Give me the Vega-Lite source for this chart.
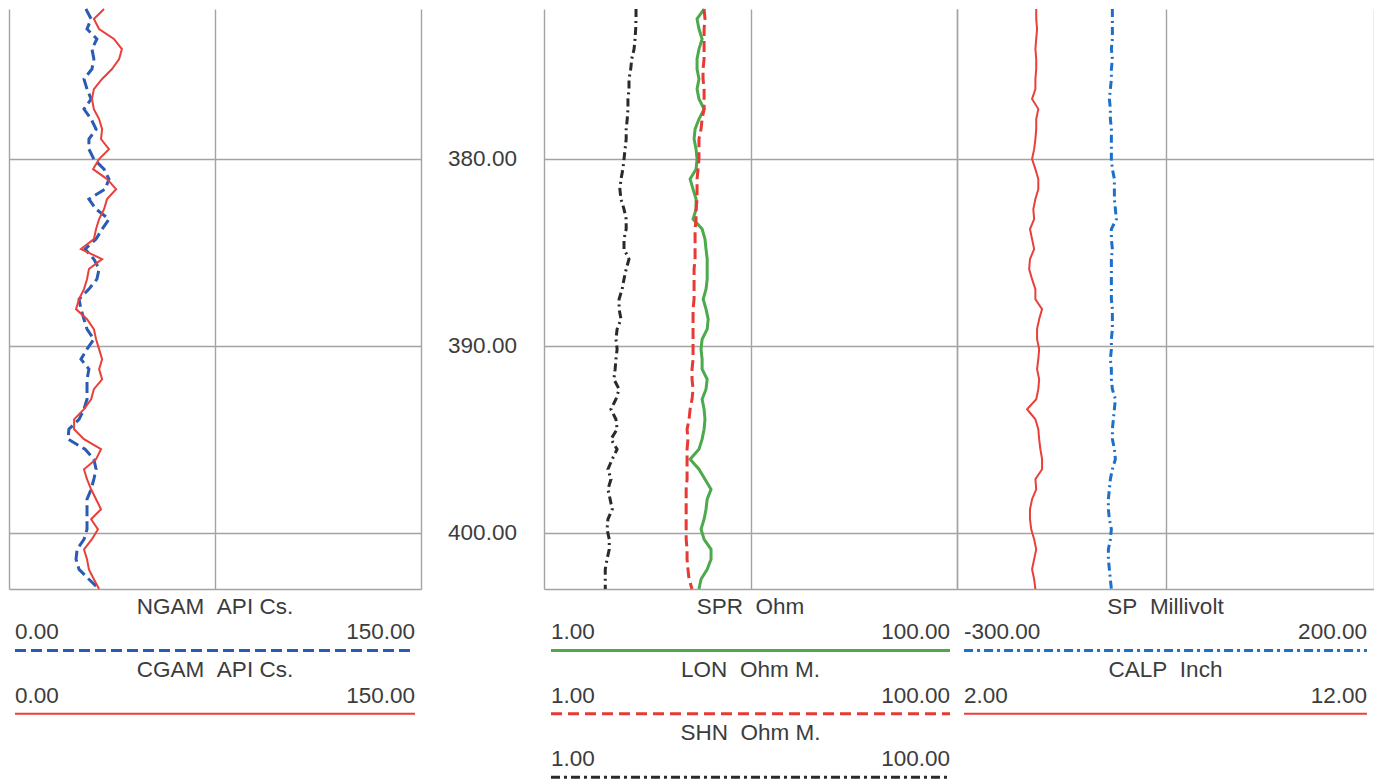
{
  "$schema": "https://vega.github.io/schema/vega-lite/v6.json",
  "padding": {"left": 9, "top": 3, "right": 0, "bottom": 0},
  "background": "white",
  "config": {
    "view": {"stroke": null},
    "axis": {"domain": false, "ticks": false, "labels": false, "grid": true, "gridColor": "#a3a3a3", "gridWidth": 1.4},
    "text": {"font": "Liberation Sans", "fontSize": 22.5, "fill": "#3c3c3c"}
  },
  "datasets": {
    "logs": [
      {"d":372.00,"NGAM":28.0,"CGAM":34.6,"SPR":5.96,"LON":5.96,"SHN":2.79,"SP":-113.7,"CALP":3.90},
      {"d":372.53,"NGAM":29.9,"CGAM":30.9,"SPR":5.51,"LON":6.02,"SHN":2.79,"SP":-113.7,"CALP":3.90},
      {"d":373.07,"NGAM":28.4,"CGAM":32.8,"SPR":5.63,"LON":5.96,"SHN":2.78,"SP":-113.7,"CALP":3.92},
      {"d":373.60,"NGAM":32.0,"CGAM":38.2,"SPR":5.83,"LON":5.96,"SHN":2.76,"SP":-113.7,"CALP":3.90},
      {"d":374.14,"NGAM":30.2,"CGAM":41.1,"SPR":5.63,"LON":5.96,"SHN":2.73,"SP":-114.9,"CALP":3.88},
      {"d":374.67,"NGAM":30.9,"CGAM":40.1,"SPR":5.51,"LON":5.96,"SHN":2.66,"SP":-113.7,"CALP":3.90},
      {"d":375.21,"NGAM":30.2,"CGAM":37.5,"SPR":5.51,"LON":5.89,"SHN":2.63,"SP":-114.9,"CALP":3.90},
      {"d":375.74,"NGAM":27.3,"CGAM":33.9,"SPR":5.63,"LON":5.89,"SHN":2.58,"SP":-114.9,"CALP":3.88},
      {"d":376.28,"NGAM":28.4,"CGAM":30.9,"SPR":5.51,"LON":5.96,"SHN":2.58,"SP":-116.1,"CALP":3.88},
      {"d":376.81,"NGAM":29.9,"CGAM":30.2,"SPR":5.63,"LON":5.96,"SHN":2.55,"SP":-117.3,"CALP":3.80},
      {"d":377.35,"NGAM":27.3,"CGAM":30.9,"SPR":5.96,"LON":5.96,"SHN":2.55,"SP":-116.1,"CALP":3.95},
      {"d":377.88,"NGAM":29.9,"CGAM":32.8,"SPR":5.63,"LON":5.83,"SHN":2.53,"SP":-116.1,"CALP":3.90},
      {"d":378.42,"NGAM":31.7,"CGAM":33.9,"SPR":5.39,"LON":5.76,"SHN":2.50,"SP":-114.9,"CALP":3.90},
      {"d":378.95,"NGAM":29.1,"CGAM":33.5,"SPR":5.33,"LON":5.63,"SHN":2.50,"SP":-114.9,"CALP":3.88},
      {"d":379.49,"NGAM":29.1,"CGAM":36.4,"SPR":5.45,"LON":5.63,"SHN":2.47,"SP":-114.9,"CALP":3.85},
      {"d":380.02,"NGAM":30.9,"CGAM":32.8,"SPR":5.51,"LON":5.63,"SHN":2.44,"SP":-114.9,"CALP":3.80},
      {"d":380.56,"NGAM":34.6,"CGAM":30.6,"SPR":5.45,"LON":5.57,"SHN":2.41,"SP":-113.7,"CALP":3.88},
      {"d":381.09,"NGAM":36.4,"CGAM":35.7,"SPR":5.10,"LON":5.51,"SHN":2.36,"SP":-111.3,"CALP":3.95},
      {"d":381.63,"NGAM":35.0,"CGAM":39.0,"SPR":5.27,"LON":5.51,"SHN":2.33,"SP":-111.3,"CALP":3.95},
      {"d":382.16,"NGAM":29.1,"CGAM":35.7,"SPR":5.45,"LON":5.51,"SHN":2.36,"SP":-111.3,"CALP":3.88},
      {"d":382.70,"NGAM":31.7,"CGAM":34.6,"SPR":5.45,"LON":5.45,"SHN":2.44,"SP":-110.1,"CALP":3.83},
      {"d":383.23,"NGAM":36.4,"CGAM":32.8,"SPR":5.27,"LON":5.45,"SHN":2.50,"SP":-108.9,"CALP":3.85},
      {"d":383.76,"NGAM":33.9,"CGAM":31.7,"SPR":5.83,"LON":5.39,"SHN":2.50,"SP":-114.9,"CALP":3.75},
      {"d":384.30,"NGAM":31.7,"CGAM":30.9,"SPR":6.02,"LON":5.39,"SHN":2.44,"SP":-114.9,"CALP":3.80},
      {"d":384.83,"NGAM":27.7,"CGAM":26.2,"SPR":6.09,"LON":5.39,"SHN":2.44,"SP":-113.7,"CALP":3.85},
      {"d":385.37,"NGAM":30.9,"CGAM":33.9,"SPR":6.17,"LON":5.39,"SHN":2.58,"SP":-114.9,"CALP":3.75},
      {"d":385.90,"NGAM":32.8,"CGAM":29.1,"SPR":6.17,"LON":5.33,"SHN":2.50,"SP":-114.9,"CALP":3.73},
      {"d":386.44,"NGAM":32.0,"CGAM":28.4,"SPR":6.17,"LON":5.33,"SHN":2.44,"SP":-114.9,"CALP":3.80},
      {"d":386.97,"NGAM":29.1,"CGAM":27.3,"SPR":6.09,"LON":5.33,"SHN":2.39,"SP":-114.9,"CALP":3.88},
      {"d":387.51,"NGAM":25.5,"CGAM":25.5,"SPR":5.90,"LON":5.33,"SHN":2.31,"SP":-114.9,"CALP":3.88},
      {"d":388.04,"NGAM":26.2,"CGAM":24.4,"SPR":6.09,"LON":5.27,"SHN":2.31,"SP":-113.7,"CALP":4.04},
      {"d":388.58,"NGAM":27.3,"CGAM":28.4,"SPR":6.24,"LON":5.27,"SHN":2.36,"SP":-113.7,"CALP":3.97},
      {"d":389.11,"NGAM":28.4,"CGAM":30.9,"SPR":6.17,"LON":5.27,"SHN":2.26,"SP":-113.7,"CALP":3.92},
      {"d":389.65,"NGAM":30.9,"CGAM":31.7,"SPR":5.83,"LON":5.27,"SHN":2.23,"SP":-114.9,"CALP":3.92},
      {"d":390.18,"NGAM":28.4,"CGAM":32.8,"SPR":5.76,"LON":5.27,"SHN":2.26,"SP":-114.9,"CALP":3.97},
      {"d":390.72,"NGAM":26.2,"CGAM":33.9,"SPR":5.83,"LON":5.27,"SHN":2.23,"SP":-116.1,"CALP":3.95},
      {"d":391.25,"NGAM":29.1,"CGAM":32.8,"SPR":5.83,"LON":5.21,"SHN":2.21,"SP":-114.9,"CALP":3.92},
      {"d":391.79,"NGAM":28.4,"CGAM":33.9,"SPR":6.17,"LON":5.21,"SHN":2.18,"SP":-114.9,"CALP":3.97},
      {"d":392.32,"NGAM":28.4,"CGAM":30.9,"SPR":6.09,"LON":5.27,"SHN":2.31,"SP":-113.7,"CALP":3.95},
      {"d":392.86,"NGAM":28.4,"CGAM":29.9,"SPR":5.83,"LON":5.21,"SHN":2.23,"SP":-110.1,"CALP":3.90},
      {"d":393.39,"NGAM":27.3,"CGAM":27.3,"SPR":5.96,"LON":5.10,"SHN":2.11,"SP":-111.3,"CALP":3.68},
      {"d":393.93,"NGAM":25.5,"CGAM":23.7,"SPR":6.02,"LON":5.04,"SHN":2.23,"SP":-112.5,"CALP":3.88},
      {"d":394.46,"NGAM":21.8,"CGAM":23.7,"SPR":5.96,"LON":4.93,"SHN":2.26,"SP":-113.7,"CALP":3.95},
      {"d":394.99,"NGAM":21.5,"CGAM":27.3,"SPR":5.83,"LON":4.98,"SHN":2.11,"SP":-113.7,"CALP":3.97},
      {"d":395.53,"NGAM":27.7,"CGAM":33.5,"SPR":5.63,"LON":4.93,"SHN":2.26,"SP":-111.3,"CALP":4.00},
      {"d":396.06,"NGAM":30.9,"CGAM":31.7,"SPR":5.10,"LON":4.93,"SHN":2.14,"SP":-110.1,"CALP":4.04},
      {"d":396.60,"NGAM":31.7,"CGAM":27.3,"SPR":5.63,"LON":4.93,"SHN":2.04,"SP":-113.7,"CALP":4.04},
      {"d":397.13,"NGAM":30.9,"CGAM":28.4,"SPR":6.02,"LON":4.93,"SHN":2.11,"SP":-116.1,"CALP":3.88},
      {"d":397.67,"NGAM":29.9,"CGAM":29.9,"SPR":6.44,"LON":4.88,"SHN":2.04,"SP":-117.3,"CALP":3.90},
      {"d":398.20,"NGAM":28.4,"CGAM":31.7,"SPR":6.17,"LON":4.88,"SHN":2.09,"SP":-118.5,"CALP":3.80},
      {"d":398.74,"NGAM":28.4,"CGAM":33.5,"SPR":6.09,"LON":4.88,"SHN":2.14,"SP":-118.5,"CALP":3.75},
      {"d":399.27,"NGAM":28.4,"CGAM":29.9,"SPR":5.96,"LON":4.88,"SHN":2.04,"SP":-117.3,"CALP":3.75},
      {"d":399.81,"NGAM":28.4,"CGAM":32.4,"SPR":5.76,"LON":4.88,"SHN":2.02,"SP":-114.9,"CALP":3.78},
      {"d":400.34,"NGAM":27.3,"CGAM":30.2,"SPR":5.96,"LON":4.88,"SHN":2.07,"SP":-116.1,"CALP":3.85},
      {"d":400.88,"NGAM":24.8,"CGAM":27.3,"SPR":6.44,"LON":4.93,"SHN":2.07,"SP":-118.5,"CALP":3.90},
      {"d":401.41,"NGAM":24.4,"CGAM":28.4,"SPR":6.44,"LON":4.93,"SHN":2.02,"SP":-118.5,"CALP":3.85},
      {"d":401.95,"NGAM":25.5,"CGAM":29.1,"SPR":6.17,"LON":4.98,"SHN":1.98,"SP":-117.3,"CALP":3.80},
      {"d":402.48,"NGAM":29.1,"CGAM":30.9,"SPR":5.76,"LON":5.04,"SHN":1.98,"SP":-116.1,"CALP":3.85},
      {"d":403.00,"NGAM":32.8,"CGAM":32.8,"SPR":5.63,"LON":5.21,"SHN":1.98,"SP":-114.9,"CALP":3.88}
    ],
    "depths": [{"depth": 380}, {"depth": 390}, {"depth": 400}],
    "leg1": [
      {"curve": "NGAM", "title": "NGAM\u00a0\u00a0API Cs.", "lo": "0.00", "hi": "150.00", "slot": 1},
      {"curve": "CGAM", "title": "CGAM\u00a0\u00a0API Cs.", "lo": "0.00", "hi": "150.00", "slot": 2}
    ],
    "leg2": [
      {"curve": "SPR", "title": "SPR\u00a0\u00a0Ohm", "lo": "1.00", "hi": "100.00", "slot": 1},
      {"curve": "LON", "title": "LON\u00a0\u00a0Ohm M.", "lo": "1.00", "hi": "100.00", "slot": 2},
      {"curve": "SHN", "title": "SHN\u00a0\u00a0Ohm M.", "lo": "1.00", "hi": "100.00", "slot": 3}
    ],
    "leg3": [
      {"curve": "SP", "title": "SP\u00a0\u00a0Millivolt", "lo": "-300.00", "hi": "200.00", "slot": 1},
      {"curve": "CALP", "title": "CALP\u00a0\u00a0Inch", "lo": "2.00", "hi": "12.00", "slot": 2}
    ]
  },
  "spacing": 0,
  "hconcat": [
    {
      "spacing": 0,
      "vconcat": [
        {
          "width": 412, "height": 580,
          "data": {"name": "logs"},
          "layer": [
            {
              "mark": {"type": "line", "color": "#2b5cb3", "strokeWidth": 3, "strokeDash": [11, 5]},
              "encoding": {
                "x": {"field": "NGAM", "type": "quantitative", "scale": {"domain": [0, 150], "nice": false, "zero": false}, "axis": {"values": [0, 75, 150], "title": null, "labels": false, "ticks": false, "domain": false}},
                "y": {"field": "d", "type": "quantitative", "scale": {"domain": [372, 403], "reverse": true, "nice": false, "zero": false}, "axis": {"values": [380, 390, 400, 403], "title": null, "labels": false, "ticks": false, "domain": false}},
                "order": {"field": "d"}
              }
            },
            {
              "mark": {"type": "line", "color": "#e8403a", "strokeWidth": 2},
              "encoding": {
                "x": {"field": "CGAM", "type": "quantitative", "scale": {"domain": [0, 150], "nice": false, "zero": false}, "axis": {"values": [0, 75, 150], "title": null, "labels": false, "ticks": false, "domain": false}},
                "y": {"field": "d", "type": "quantitative", "scale": {"domain": [372, 403], "reverse": true, "nice": false, "zero": false}, "axis": {"values": [380, 390, 400, 403], "title": null, "labels": false, "ticks": false, "domain": false}},
                "order": {"field": "d"}
              }
            }
          ]
        },
        {
          "width": 412, "height": 190,
          "data": {"name": "leg1"},
          "layer": [
            {
              "mark": {"type": "text", "align": "center", "baseline": "middle"},
              "encoding": {
                "x": {"datum": "mid", "type": "ordinal", "scale": {"type": "point", "domain": ["min", "mid", "max"], "padding": 0.03}, "axis": null},
                "y": {"field": "slot", "type": "ordinal", "scale": {"type": "band", "domain": [1, 2, 3], "paddingInner": 0, "paddingOuter": 0}, "axis": null, "bandPosition": 0.166},
                "text": {"field": "title"}
              }
            },
            {
              "mark": {"type": "text", "align": "left", "baseline": "middle"},
              "encoding": {
                "x": {"datum": "min", "type": "ordinal", "scale": {"type": "point", "domain": ["min", "mid", "max"], "padding": 0.03}, "axis": null},
                "y": {"field": "slot", "type": "ordinal", "scale": {"type": "band", "domain": [1, 2, 3], "paddingInner": 0, "paddingOuter": 0}, "axis": null, "bandPosition": 0.576},
                "text": {"field": "lo"}
              }
            },
            {
              "mark": {"type": "text", "align": "right", "baseline": "middle"},
              "encoding": {
                "x": {"datum": "max", "type": "ordinal", "scale": {"type": "point", "domain": ["min", "mid", "max"], "padding": 0.03}, "axis": null},
                "y": {"field": "slot", "type": "ordinal", "scale": {"type": "band", "domain": [1, 2, 3], "paddingInner": 0, "paddingOuter": 0}, "axis": null, "bandPosition": 0.576},
                "text": {"field": "hi"}
              }
            },
            {
              "transform": [{"filter": "datum.curve === 'NGAM'"}],
              "mark": {"type": "rule", "color": "#2b5cb3", "strokeWidth": 3, "strokeDash": [11, 5]},
              "encoding": {
                "x": {"datum": "min", "type": "ordinal", "scale": {"type": "point", "domain": ["min", "mid", "max"], "padding": 0.03}, "axis": null},
                "x2": {"datum": "max"},
                "y": {"field": "slot", "type": "ordinal", "scale": {"type": "band", "domain": [1, 2, 3], "paddingInner": 0, "paddingOuter": 0}, "axis": null, "bandPosition": 0.86}
              }
            },
            {
              "transform": [{"filter": "datum.curve === 'CGAM'"}],
              "mark": {"type": "rule", "color": "#e8403a", "strokeWidth": 2},
              "encoding": {
                "x": {"datum": "min", "type": "ordinal", "scale": {"type": "point", "domain": ["min", "mid", "max"], "padding": 0.03}, "axis": null},
                "x2": {"datum": "max"},
                "y": {"field": "slot", "type": "ordinal", "scale": {"type": "band", "domain": [1, 2, 3], "paddingInner": 0, "paddingOuter": 0}, "axis": null, "bandPosition": 0.86}
              }
            }
          ]
        }
      ]
    },
    {
      "width": 123, "height": 580,
      "data": {"name": "depths"},
      "mark": {"type": "text", "align": "center", "baseline": "middle"},
      "encoding": {
        "y": {"field": "depth", "type": "quantitative", "scale": {"domain": [372, 403], "reverse": true, "nice": false, "zero": false}, "axis": null},
        "text": {"field": "depth", "type": "quantitative", "format": ".2f"}
      }
    },
    {
      "spacing": 0,
      "vconcat": [
        {
          "width": 413, "height": 580,
          "data": {"name": "logs"},
          "layer": [
            {
              "mark": {"type": "line", "color": "#2a2a2a", "strokeWidth": 3, "strokeDash": [8, 4, 2, 4]},
              "encoding": {
                "x": {"field": "SHN", "type": "quantitative", "scale": {"type": "log", "domain": [1, 100], "nice": false}, "axis": {"values": [1, 10, 100], "title": null, "labels": false, "ticks": false, "domain": false}},
                "y": {"field": "d", "type": "quantitative", "scale": {"domain": [372, 403], "reverse": true, "nice": false, "zero": false}, "axis": {"values": [380, 390, 400, 403], "title": null, "labels": false, "ticks": false, "domain": false}},
                "order": {"field": "d"}
              }
            },
            {
              "mark": {"type": "line", "color": "#4caa4c", "strokeWidth": 3},
              "encoding": {
                "x": {"field": "SPR", "type": "quantitative", "scale": {"type": "log", "domain": [1, 100], "nice": false}, "axis": {"values": [1, 10, 100], "title": null, "labels": false, "ticks": false, "domain": false}},
                "y": {"field": "d", "type": "quantitative", "scale": {"domain": [372, 403], "reverse": true, "nice": false, "zero": false}, "axis": {"values": [380, 390, 400, 403], "title": null, "labels": false, "ticks": false, "domain": false}},
                "order": {"field": "d"}
              }
            },
            {
              "mark": {"type": "line", "color": "#e63a35", "strokeWidth": 3, "strokeDash": [11, 5]},
              "encoding": {
                "x": {"field": "LON", "type": "quantitative", "scale": {"type": "log", "domain": [1, 100], "nice": false}, "axis": {"values": [1, 10, 100], "title": null, "labels": false, "ticks": false, "domain": false}},
                "y": {"field": "d", "type": "quantitative", "scale": {"domain": [372, 403], "reverse": true, "nice": false, "zero": false}, "axis": {"values": [380, 390, 400, 403], "title": null, "labels": false, "ticks": false, "domain": false}},
                "order": {"field": "d"}
              }
            }
          ]
        },
        {
          "width": 413, "height": 190,
          "data": {"name": "leg2"},
          "layer": [
            {
              "mark": {"type": "text", "align": "center", "baseline": "middle"},
              "encoding": {
                "x": {"datum": "mid", "type": "ordinal", "scale": {"type": "point", "domain": ["min", "mid", "max"], "padding": 0.035}, "axis": null},
                "y": {"field": "slot", "type": "ordinal", "scale": {"type": "band", "domain": [1, 2, 3], "paddingInner": 0, "paddingOuter": 0}, "axis": null, "bandPosition": 0.166},
                "text": {"field": "title"}
              }
            },
            {
              "mark": {"type": "text", "align": "left", "baseline": "middle"},
              "encoding": {
                "x": {"datum": "min", "type": "ordinal", "scale": {"type": "point", "domain": ["min", "mid", "max"], "padding": 0.035}, "axis": null},
                "y": {"field": "slot", "type": "ordinal", "scale": {"type": "band", "domain": [1, 2, 3], "paddingInner": 0, "paddingOuter": 0}, "axis": null, "bandPosition": 0.576},
                "text": {"field": "lo"}
              }
            },
            {
              "mark": {"type": "text", "align": "right", "baseline": "middle"},
              "encoding": {
                "x": {"datum": "max", "type": "ordinal", "scale": {"type": "point", "domain": ["min", "mid", "max"], "padding": 0.035}, "axis": null},
                "y": {"field": "slot", "type": "ordinal", "scale": {"type": "band", "domain": [1, 2, 3], "paddingInner": 0, "paddingOuter": 0}, "axis": null, "bandPosition": 0.576},
                "text": {"field": "hi"}
              }
            },
            {
              "transform": [{"filter": "datum.curve === 'SPR'"}],
              "mark": {"type": "rule", "color": "#4caa4c", "strokeWidth": 3},
              "encoding": {
                "x": {"datum": "min", "type": "ordinal", "scale": {"type": "point", "domain": ["min", "mid", "max"], "padding": 0.035}, "axis": null},
                "x2": {"datum": "max"},
                "y": {"field": "slot", "type": "ordinal", "scale": {"type": "band", "domain": [1, 2, 3], "paddingInner": 0, "paddingOuter": 0}, "axis": null, "bandPosition": 0.86}
              }
            },
            {
              "transform": [{"filter": "datum.curve === 'LON'"}],
              "mark": {"type": "rule", "color": "#e63a35", "strokeWidth": 3, "strokeDash": [11, 6]},
              "encoding": {
                "x": {"datum": "min", "type": "ordinal", "scale": {"type": "point", "domain": ["min", "mid", "max"], "padding": 0.035}, "axis": null},
                "x2": {"datum": "max"},
                "y": {"field": "slot", "type": "ordinal", "scale": {"type": "band", "domain": [1, 2, 3], "paddingInner": 0, "paddingOuter": 0}, "axis": null, "bandPosition": 0.86}
              }
            },
            {
              "transform": [{"filter": "datum.curve === 'SHN'"}],
              "mark": {"type": "rule", "color": "#2a2a2a", "strokeWidth": 3, "strokeDash": [9, 4, 3, 4]},
              "encoding": {
                "x": {"datum": "min", "type": "ordinal", "scale": {"type": "point", "domain": ["min", "mid", "max"], "padding": 0.035}, "axis": null},
                "x2": {"datum": "max"},
                "y": {"field": "slot", "type": "ordinal", "scale": {"type": "band", "domain": [1, 2, 3], "paddingInner": 0, "paddingOuter": 0}, "axis": null, "bandPosition": 0.86}
              }
            }
          ]
        }
      ]
    },
    {
      "spacing": 0,
      "vconcat": [
        {
          "width": 417, "height": 580,
          "data": {"name": "logs"},
          "resolve": {"scale": {"x": "independent"}},
          "layer": [
            {
              "mark": {"type": "line", "color": "#1e6fc8", "strokeWidth": 3, "strokeDash": [8, 4, 2, 4]},
              "encoding": {
                "x": {"field": "SP", "type": "quantitative", "scale": {"domain": [-300, 200], "nice": false, "zero": false}, "axis": {"values": [-300, -50, 200], "title": null, "labels": false, "ticks": false, "domain": false}},
                "y": {"field": "d", "type": "quantitative", "scale": {"domain": [372, 403], "reverse": true, "nice": false, "zero": false}, "axis": {"values": [380, 390, 400, 403], "title": null, "labels": false, "ticks": false, "domain": false}},
                "order": {"field": "d"}
              }
            },
            {
              "mark": {"type": "line", "color": "#e8403a", "strokeWidth": 2},
              "encoding": {
                "x": {"field": "CALP", "type": "quantitative", "scale": {"domain": [2, 12], "nice": false, "zero": false}, "axis": null},
                "y": {"field": "d", "type": "quantitative", "scale": {"domain": [372, 403], "reverse": true, "nice": false, "zero": false}, "axis": {"values": [380, 390, 400, 403], "title": null, "labels": false, "ticks": false, "domain": false}},
                "order": {"field": "d"}
              }
            }
          ]
        },
        {
          "width": 417, "height": 190,
          "data": {"name": "leg3"},
          "layer": [
            {
              "mark": {"type": "text", "align": "center", "baseline": "middle"},
              "encoding": {
                "x": {"datum": "mid", "type": "ordinal", "scale": {"type": "point", "domain": ["min", "mid", "max"], "padding": 0.035}, "axis": null},
                "y": {"field": "slot", "type": "ordinal", "scale": {"type": "band", "domain": [1, 2, 3], "paddingInner": 0, "paddingOuter": 0}, "axis": null, "bandPosition": 0.166},
                "text": {"field": "title"}
              }
            },
            {
              "mark": {"type": "text", "align": "left", "baseline": "middle"},
              "encoding": {
                "x": {"datum": "min", "type": "ordinal", "scale": {"type": "point", "domain": ["min", "mid", "max"], "padding": 0.035}, "axis": null},
                "y": {"field": "slot", "type": "ordinal", "scale": {"type": "band", "domain": [1, 2, 3], "paddingInner": 0, "paddingOuter": 0}, "axis": null, "bandPosition": 0.576},
                "text": {"field": "lo"}
              }
            },
            {
              "mark": {"type": "text", "align": "right", "baseline": "middle"},
              "encoding": {
                "x": {"datum": "max", "type": "ordinal", "scale": {"type": "point", "domain": ["min", "mid", "max"], "padding": 0.035}, "axis": null},
                "y": {"field": "slot", "type": "ordinal", "scale": {"type": "band", "domain": [1, 2, 3], "paddingInner": 0, "paddingOuter": 0}, "axis": null, "bandPosition": 0.576},
                "text": {"field": "hi"}
              }
            },
            {
              "transform": [{"filter": "datum.curve === 'SP'"}],
              "mark": {"type": "rule", "color": "#1e6fc8", "strokeWidth": 3, "strokeDash": [9, 4, 3, 4]},
              "encoding": {
                "x": {"datum": "min", "type": "ordinal", "scale": {"type": "point", "domain": ["min", "mid", "max"], "padding": 0.035}, "axis": null},
                "x2": {"datum": "max"},
                "y": {"field": "slot", "type": "ordinal", "scale": {"type": "band", "domain": [1, 2, 3], "paddingInner": 0, "paddingOuter": 0}, "axis": null, "bandPosition": 0.86}
              }
            },
            {
              "transform": [{"filter": "datum.curve === 'CALP'"}],
              "mark": {"type": "rule", "color": "#e8403a", "strokeWidth": 2},
              "encoding": {
                "x": {"datum": "min", "type": "ordinal", "scale": {"type": "point", "domain": ["min", "mid", "max"], "padding": 0.035}, "axis": null},
                "x2": {"datum": "max"},
                "y": {"field": "slot", "type": "ordinal", "scale": {"type": "band", "domain": [1, 2, 3], "paddingInner": 0, "paddingOuter": 0}, "axis": null, "bandPosition": 0.86}
              }
            }
          ]
        }
      ]
    }
  ]
}
